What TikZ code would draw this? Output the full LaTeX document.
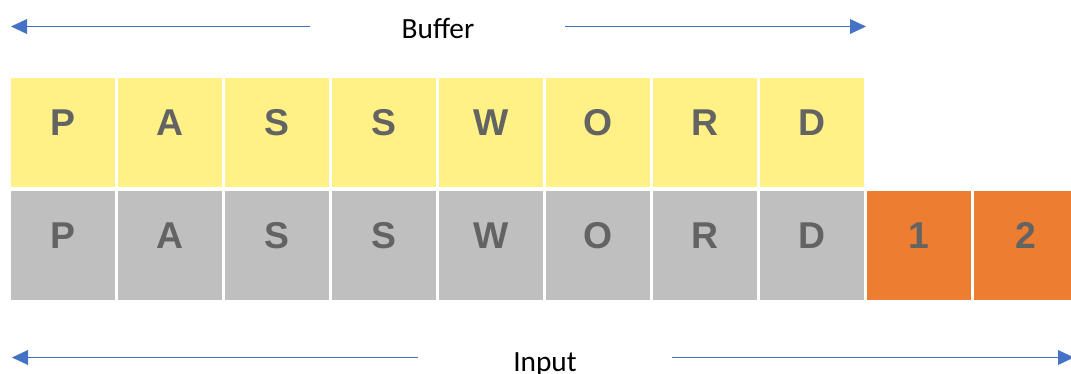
\documentclass[tikz,border=0pt]{standalone}
\usepackage{fontspec}
\setmainfont{Carlito}
\newfontfamily\cellfont{Liberation Sans}
\usetikzlibrary{arrows.meta}
\definecolor{cellyellow}{HTML}{FFF185}
\definecolor{cellgray}{HTML}{BFBFBF}
\definecolor{cellorange}{HTML}{ED7D31}
\definecolor{lettergray}{HTML}{636363}
\definecolor{arrowblue}{HTML}{4472C4}
\tikzset{
  cellbox/.style={minimum width=78pt, minimum height=81.75pt, inner sep=0pt, outer sep=0pt,
    text height=20pt, text depth=15pt,
    font=\cellfont\bfseries\fontsize{28}{30}\selectfont, text=lettergray},
  ybox/.style={cellbox, fill=cellyellow},
  gbox/.style={cellbox, fill=cellgray},
  obox/.style={cellbox, fill=cellorange},
  spanarrow/.style={draw=arrowblue, line width=1.1pt, -{Triangle[length=12pt,width=11pt]}},
  lbl/.style={font=\fontsize{22}{26}\selectfont, text=black, inner sep=0pt, anchor=base}
}
\begin{document}
\begin{tikzpicture}[x=0.75pt, y=-0.75pt]
\useasboundingbox (0,0) rectangle (1071,374);
\clip (0,0) rectangle (1071,374);
% top row (buffer)
\foreach \c [count=\i from 0] in {P,A,S,S,W,O,R,D} {
  \node[ybox] (b\i) at (63+107*\i,132.5) {\c};
}
% bottom row (input)
\foreach \c [count=\i from 0] in {P,A,S,S,W,O,R,D} {
  \node[gbox] (g\i) at (63+107*\i,245.5) {\c};
}
\node[obox] (g8) at (63+107*8,245.5) {1};
\node[obox] (g9) at (63+107*9,245.5) {2};
% labels
\node[lbl] (buf) at (438,39) {Buffer};
\node[lbl] (inp) at (545,371) {Input};
% arrows
\coordinate (bl0) at (310,26.5);
\coordinate (bl1) at (11,26.5);
\coordinate (br0) at (565,26.5);
\coordinate (br1) at (866,26.5);
\coordinate (il0) at (418,357.5);
\coordinate (il1) at (12,357.5);
\coordinate (ir0) at (672,357.5);
\coordinate (ir1) at (1074,357.5);
\draw[spanarrow] (bl0) -- (bl1);
\draw[spanarrow] (br0) -- (br1);
\draw[spanarrow] (il0) -- (il1);
\draw[spanarrow] (ir0) -- (ir1);
\end{tikzpicture}
\end{document}
